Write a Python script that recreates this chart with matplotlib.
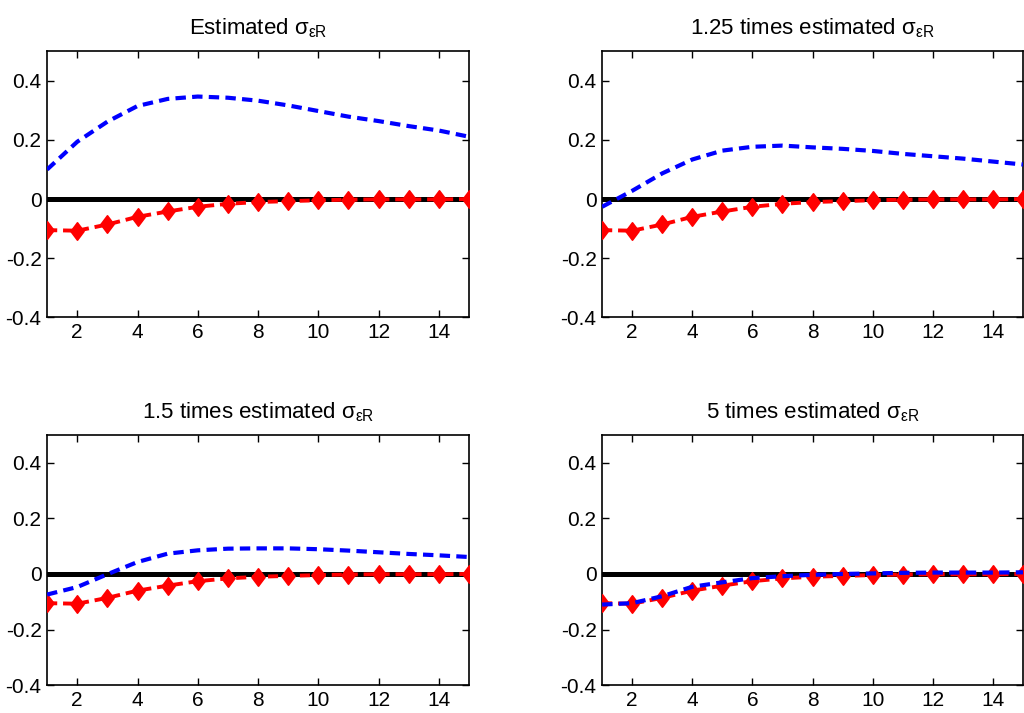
import numpy as np
import matplotlib
matplotlib.use("Agg")
from matplotlib import pyplot as plt
from matplotlib.path import Path

plt.rcParams['font.family'] = ['Liberation Sans', 'DejaVu Sans']
plt.rcParams['mathtext.fontset'] = 'custom'
plt.rcParams['mathtext.rm'] = 'Liberation Sans'
plt.rcParams['mathtext.it'] = 'Liberation Sans:italic'

horizon = list(range(1, 16))

titles = [
    r'Estimated $\mathrm{\sigma}_{\mathrm{\varepsilon R}}$',
    r'1.25 times estimated $\mathrm{\sigma}_{\mathrm{\varepsilon R}}$',
    r'1.5 times estimated $\mathrm{\sigma}_{\mathrm{\varepsilon R}}$',
    r'5 times estimated $\mathrm{\sigma}_{\mathrm{\varepsilon R}}$',
]

# red benchmark response (same in every panel)
benchmark = [-0.105, -0.107, -0.086, -0.060, -0.042, -0.026, -0.016, -0.010,
             -0.007, -0.004, -0.002, -0.001, -0.001, -0.001, 0.0]

blue_est = [0.100, 0.194, 0.262, 0.315, 0.339, 0.347, 0.343, 0.333,
            0.317, 0.298, 0.279, 0.264, 0.247, 0.232, 0.211]
blue_125 = [-0.026, 0.028, 0.087, 0.134, 0.164, 0.177, 0.181, 0.175,
            0.170, 0.163, 0.153, 0.145, 0.137, 0.127, 0.117]
blue_15 = [-0.074, -0.047, -0.001, 0.043, 0.073, 0.085, 0.091, 0.092,
           0.092, 0.089, 0.084, 0.078, 0.072, 0.067, 0.061]
blue_5 = [-0.110, -0.105, -0.080, -0.046, -0.030, -0.015, -0.008, -0.003,
          0.000, 0.002, 0.004, 0.005, 0.005, 0.005, 0.006]

blue_series = [blue_est, blue_125, blue_15, blue_5]

# axes rectangles in figure fractions
positions = [
    [0.046, 0.555, 0.412, 0.373],
    [0.588, 0.555, 0.411, 0.373],
    [0.046, 0.039, 0.412, 0.351],
    [0.588, 0.039, 0.411, 0.351],
]

# MATLAB-like diamond, a bit taller than wide
diamond = Path([(0, 1), (0.75, 0), (0, -1), (-0.75, 0), (0, 1)],
               [Path.MOVETO, Path.LINETO, Path.LINETO, Path.LINETO, Path.CLOSEPOLY])

fig = plt.figure(figsize=(10.24, 7.13), dpi=100)

for pos, title, blue in zip(positions, titles, blue_series):
    ax = fig.add_axes(pos)
    ax.plot(horizon, np.zeros(len(horizon)), color='black', lw=3.6, zorder=2)
    ax.plot(horizon, benchmark, color='red', lw=2.8, ls=(0, (2.6, 1.5)),
            marker=diamond, ms=12.5, mfc='red', mec='red', mew=1.2, zorder=3)
    ax.plot(horizon, blue, color='blue', lw=3.0, ls=(0, (2.5, 1.5)), zorder=4)
    ax.set_xlim(1, 15)
    ax.set_ylim(-0.4, 0.5)
    ax.set_xticks([2, 4, 6, 8, 10, 12, 14])
    ax.set_yticks([-0.4, -0.2, 0, 0.2, 0.4])
    ax.set_yticklabels(['-0.4', '-0.2', '0', '0.2', '0.4'])
    ax.tick_params(direction='in', top=True, right=True, length=5, width=1,
                   labelsize=15, pad=4)
    for sp in ax.spines.values():
        sp.set_linewidth(1.2)
    ax.set_title(title, fontsize=16, pad=12)

fig.savefig('out.png', dpi=100)
